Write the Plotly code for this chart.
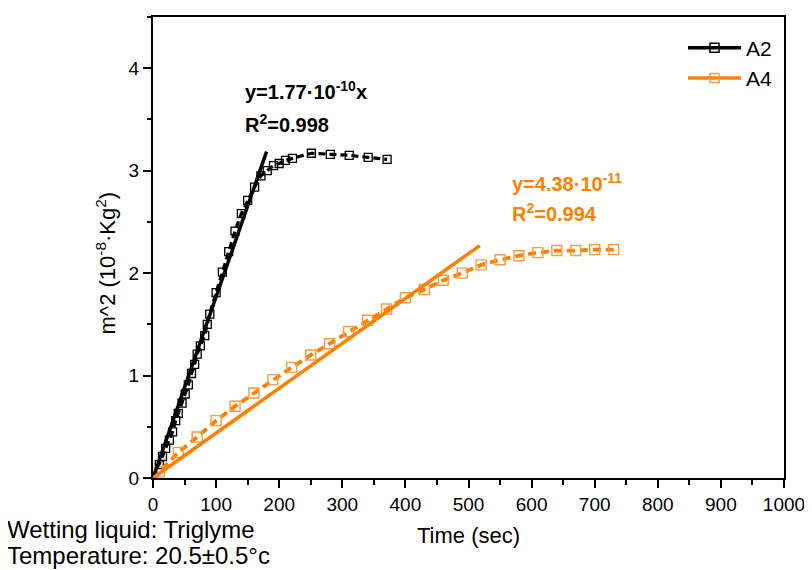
import plotly.graph_objects as go

# A2 data (time in s, m^2 in 1e-8 kg^2)
a2_t = [0, 10, 15, 20, 26, 31, 36, 40, 46, 51, 56, 61, 66, 70, 75, 82, 86, 90, 100, 110,
        120, 130, 140, 150, 161, 171, 181, 191, 200, 210, 221, 251, 281, 311, 341, 371]
a2_m = [0, 0.13, 0.21, 0.29, 0.37, 0.45, 0.56, 0.63, 0.73, 0.82, 0.91, 1.02, 1.11, 1.21, 1.29, 1.39, 1.50, 1.60, 1.81, 2.01,
        2.21, 2.41, 2.58, 2.71, 2.84, 2.95, 3.00, 3.05, 3.07, 3.10, 3.12, 3.17, 3.16, 3.15, 3.13, 3.11]

# A4 data
a4_t = [0, 10, 40, 70, 100, 130, 160, 190, 220, 250, 280, 310, 340, 370, 400, 430, 460, 490,
        520, 550, 580, 610, 640, 670, 700, 730]
a4_m = [0, 0.06, 0.25, 0.40, 0.56, 0.70, 0.83, 0.96, 1.08, 1.20, 1.31, 1.43, 1.54, 1.65, 1.76, 1.84, 1.93, 2.00,
        2.08, 2.13, 2.17, 2.20, 2.22, 2.22, 2.23, 2.23]

# linear fits (slope in 1e-8 kg^2 / s)
a2_slope = 0.0177
a2_fit_t = [0, 180]
a4_slope = 0.00438
a4_fit_t = [0, 518]

series_names = ["A2", "A4"]

BLACK = "#000000"
ORANGE = "#FF7F00"
ORANGE_MK = "#FF9A3C"
FONT = "Liberation Sans, Arial, sans-serif"

fig = go.Figure()
fig.add_trace(go.Scatter(x=a2_t, y=a2_m, mode="lines+markers", name=series_names[0], showlegend=False,
                         line=dict(color=BLACK, width=3.2, dash="7px,4px"),
                         marker=dict(symbol="square-open", size=8, color=BLACK, line=dict(width=1.3))))
fig.add_trace(go.Scatter(x=a4_t, y=a4_m, mode="lines+markers", name=series_names[1], showlegend=False,
                         line=dict(color=ORANGE, width=3.8, dash="8px,5px"),
                         marker=dict(symbol="square-open", size=10, color=ORANGE_MK, line=dict(width=1.4))))
fig.add_trace(go.Scatter(x=a2_fit_t, y=[a2_slope * t for t in a2_fit_t], mode="lines",
                         line=dict(color=BLACK, width=3.5), showlegend=False))
fig.add_trace(go.Scatter(x=a4_fit_t, y=[a4_slope * t for t in a4_fit_t], mode="lines",
                         line=dict(color=ORANGE, width=3.5), showlegend=False))
# legend entries (solid line with open square)
for nm, c, mc in [(series_names[0], BLACK, BLACK), (series_names[1], ORANGE, ORANGE_MK)]:
    fig.add_trace(go.Scatter(x=[None], y=[None], mode="lines+markers", name=nm,
                             line=dict(color=c, width=3.5),
                             marker=dict(symbol="square-open", size=9, color=mc, line=dict(width=1.5))))

ann = [
    dict(x=143, y=3.78, text="<b>y=1.77·10<sup>-10</sup>x</b>", font=dict(color=BLACK, size=20)),
    dict(x=143, y=3.46, text="<b>R<sup>2</sup>=0.998</b>", font=dict(color=BLACK, size=20)),
    dict(x=566, y=2.88, text="<b>y=4.38·10<sup>-11</sup></b>", font=dict(color=ORANGE, size=20)),
    dict(x=566, y=2.59, text="<b>R<sup>2</sup>=0.994</b>", font=dict(color=ORANGE, size=20)),
]
for a in ann:
    fig.add_annotation(xref="x", yref="y", xanchor="left", yanchor="middle", showarrow=False, **a)

fig.add_annotation(xref="paper", yref="paper", x=-0.234, y=-0.112, xanchor="left", yanchor="middle",
                   text="Wetting liquid: Triglyme", showarrow=False, font=dict(size=24, color=BLACK))
fig.add_annotation(xref="paper", yref="paper", x=-0.234, y=-0.168, xanchor="left", yanchor="middle",
                   text="Temperature: 20.5±0.5°c", showarrow=False, font=dict(size=24, color=BLACK))
fig.add_annotation(xref="paper", yref="paper", x=-0.074, y=0.466, xanchor="center", yanchor="middle",
                   textangle=-90, text="m^2 (10<sup>-8</sup>·Kg<sup>2</sup>)", showarrow=False,
                   font=dict(size=22, color=BLACK))
fig.add_annotation(xref="paper", yref="paper", x=0.5, y=-0.125, xanchor="center", yanchor="middle",
                   text="Time (sec)", showarrow=False, font=dict(size=22, color=BLACK))

# page body has an 8px margin: shrink figure by 8px and shift margins accordingly
fig.update_layout(
    width=804, height=562,
    margin=dict(l=145, r=22, t=7, b=92),
    paper_bgcolor="white", plot_bgcolor="white",
    font=dict(family=FONT, color=BLACK, size=19),
    legend=dict(x=0.84, y=0.977, xanchor="left", yanchor="top", bgcolor="rgba(0,0,0,0)",
                font=dict(size=21), itemwidth=53, tracegroupgap=0),
    xaxis=dict(range=[0, 1000], tickvals=list(range(0, 1001, 100)), showgrid=False, zeroline=False,
               showline=True, linecolor=BLACK, linewidth=2, mirror=True,
               ticks="outside", ticklen=8, tickwidth=1.5, tickcolor=BLACK,
               minor=dict(dtick=50, ticks="outside", ticklen=5, tickwidth=1.5, tickcolor=BLACK),
               tickfont=dict(size=19)),
    yaxis=dict(range=[0, 4.5], tickvals=[0, 1, 2, 3, 4], showgrid=False, zeroline=False,
               showline=True, linecolor=BLACK, linewidth=2, mirror=True,
               ticks="outside", ticklen=8, tickwidth=1.5, tickcolor=BLACK,
               minor=dict(dtick=0.5, ticks="outside", ticklen=4, tickwidth=1.5, tickcolor=BLACK),
               tickfont=dict(size=19)),
)

fig.write_html("out.html")
